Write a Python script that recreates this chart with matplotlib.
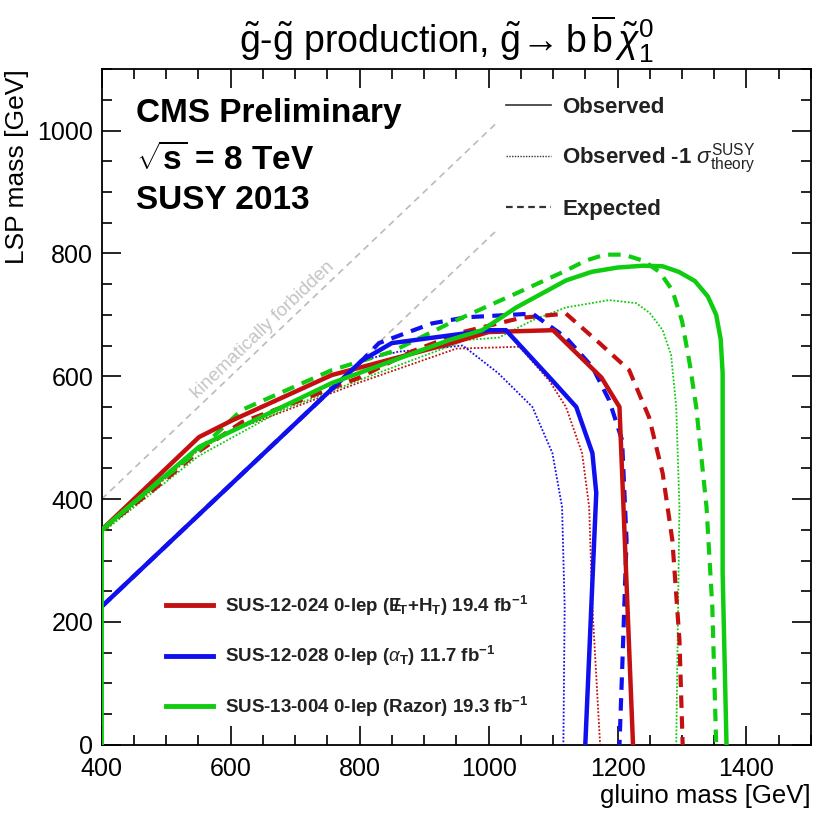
import numpy as np
import matplotlib
matplotlib.use("Agg")
import matplotlib.pyplot as plt
from matplotlib.lines import Line2D

plt.rcParams['font.family'] = ['Liberation Sans', 'DejaVu Sans']
plt.rcParams['mathtext.fontset'] = 'custom'
plt.rcParams['mathtext.rm'] = 'Liberation Sans'
plt.rcParams['mathtext.it'] = 'Liberation Sans:italic'
plt.rcParams['mathtext.bf'] = 'Liberation Sans:bold'

# ---- data (GeV) ----
# SUS-12-024 (MET+HT)
red_obs_x = [400, 551, 602, 757, 943, 1000, 1100, 1175, 1203, 1224]
red_obs_y = [350, 501, 528, 602, 654, 672, 675, 598, 550, 0]
red_exp_x = [400, 480, 551, 617, 706, 800, 880, 960, 1050, 1120, 1172, 1218, 1249, 1270, 1285, 1296, 1301]
red_exp_y = [350, 415, 478, 525, 560, 598, 640, 672, 695, 702, 654, 610, 533, 442, 333, 171, 0]
red_m1_x = [400, 550, 600, 800, 950, 1048, 1094, 1120, 1145, 1156, 1161, 1173]
red_m1_y = [345, 480, 510, 590, 645, 648, 593, 550, 475, 387, 224, 0]

# SUS-12-028 (alphaT)
blue_obs_x = [400, 804, 850, 1001, 1027, 1099, 1136, 1161, 1167, 1150]
blue_obs_y = [225, 626, 654, 675, 675, 593, 550, 475, 410, 0]
blue_exp_x = [400, 804, 830, 912, 965, 1068, 1120, 1161, 1187, 1207, 1214, 1207, 1203]
blue_exp_y = [225, 626, 654, 686, 696, 702, 663, 615, 561, 496, 333, 117, 0]
blue_m1_x = [400, 804, 860, 960, 1015, 1068, 1099, 1114, 1118, 1116]
blue_m1_y = [225, 626, 640, 650, 605, 550, 475, 387, 224, 0]

# SUS-13-004 (Razor)
green_obs_x = [400, 400, 551, 757, 939, 990, 1043, 1120, 1160, 1200, 1240, 1270, 1295, 1320, 1340,
               1353, 1360, 1363, 1363, 1363, 1369]
green_obs_y = [0, 350, 485, 589, 659, 675, 712, 756, 770, 777, 780, 779, 770, 755, 730,
               700, 660, 605, 528, 280, 0]
green_exp_x = [400, 480, 551, 617, 757, 850, 939, 1043, 1120, 1150, 1180, 1210, 1240, 1265, 1285,
               1300, 1312, 1322, 1338, 1347, 1353]
green_exp_y = [350, 420, 480, 545, 610, 640, 686, 735, 772, 788, 798, 798, 788, 770, 740,
               690, 620, 550, 387, 224, 0]
green_m1_x = [400, 550, 680, 810, 965, 1016, 1068, 1120, 1187, 1229, 1250, 1270, 1283, 1291, 1296, 1291]
green_m1_y = [345, 470, 545, 598, 659, 663, 691, 712, 724, 719, 703, 675, 635, 550, 387, 0]

# kinematic boundaries
kin_x = [400, 1010]
kin_offsets = [0, 175]

red = '#c41010'
blue = '#1010ee'
green = '#10cc10'

fig = plt.figure(figsize=(8.2, 8.23), dpi=100)
ax = fig.add_axes([0.124, 0.095, 0.865, 0.821])

for off in kin_offsets:
    ax.plot(kin_x, [v - off for v in kin_x], color='#bbbbbb', lw=1.2, ls=(0, (4, 3)), zorder=1)
ax.text(650, 676, 'kinematically forbidden', color='#c4c4c4', fontsize=13.5,
        rotation=43.7, ha='center', va='center', zorder=1)

for c, xo, yo, xe, ye, xm, ym in [
        (red, red_obs_x, red_obs_y, red_exp_x, red_exp_y, red_m1_x, red_m1_y),
        (blue, blue_obs_x, blue_obs_y, blue_exp_x, blue_exp_y, blue_m1_x, blue_m1_y),
        (green, green_obs_x, green_obs_y, green_exp_x, green_exp_y, green_m1_x, green_m1_y)]:
    ax.plot(xm, ym, color=c, lw=1.3, ls=(0, (1, 1)), zorder=2)
    ax.plot(xe, ye, color=c, lw=3, ls=(0, (3, 2)), zorder=3)
    ax.plot(xo, yo, color=c, lw=3.2, zorder=4, solid_joinstyle='miter')

ax.set_xlim(400, 1500)
ax.set_ylim(0, 1100)
ax.set_xticks(np.arange(400, 1401, 200))
ax.set_yticks(np.arange(0, 1001, 200))
ax.set_xticks(np.arange(400, 1501, 50), minor=True)
ax.set_yticks(np.arange(0, 1101, 50), minor=True)
ax.tick_params(which='both', direction='in', top=True, right=True, labelsize=18, width=1.2)
ax.tick_params(which='major', length=14, pad=6)
ax.tick_params(axis='x', which='major', pad=9)
ax.tick_params(which='minor', length=7)
for s in ax.spines.values():
    s.set_linewidth(1.3)

ax.set_xlabel('gluino mass [GeV]', fontsize=18.5, loc='right', labelpad=2)
ax.set_ylabel('LSP mass [GeV]', fontsize=19, loc='top', labelpad=6)

fig.text(0.544, 0.952, r'$\tilde{\mathrm{g}}$-$\tilde{\mathrm{g}}$ production, '
         r'$\tilde{\mathrm{g}}\!\rightarrow \mathrm{b}\,\overline{\mathrm{b}}\,\tilde{\chi}^{0}_{1}$',
         ha='center', va='center', fontsize=27)

ax.text(0.048, 0.935, 'CMS Preliminary', transform=ax.transAxes, fontsize=24, fontweight='bold', va='center')
ax.text(0.048, 0.865, r'$\sqrt{\mathbf{s}}$ = 8 TeV', transform=ax.transAxes, fontsize=24, fontweight='bold', va='center')
ax.text(0.048, 0.805, 'SUSY 2013', transform=ax.transAxes, fontsize=24, fontweight='bold', va='center')

style_handles = [Line2D([], [], color='#333333', lw=1.2),
                 Line2D([], [], color='#333333', lw=1.0, ls=(0, (1, 1))),
                 Line2D([], [], color='#333333', lw=1.6, ls=(0, (3, 2)))]
style_labels = ['Observed', r'Observed -1 $\sigma^{\rm SUSY}_{\rm theory}$', 'Expected']
leg1 = ax.legend(style_handles, style_labels, loc='upper left', bbox_to_anchor=(0.555, 0.975),
                 frameon=False, prop={'weight': 'bold', 'size': 16},
                 handlelength=2.0, labelspacing=1.05, borderpad=0, handletextpad=0.5)
for t in leg1.get_texts():
    t.set_color('#222222')
ax.add_artist(leg1)

ana_handles = [Line2D([], [], color=red, lw=3.5),
               Line2D([], [], color=blue, lw=3.5),
               Line2D([], [], color=green, lw=3.5)]
ana_labels = [r'SUS-12-024 0-lep ($\mathbf{E\!\!\!/}_\mathbf{T}$+H$_\mathbf{T}$) 19.4 fb$^\mathbf{-1}$',
              r'SUS-12-028 0-lep ($\alpha_\mathbf{T}$) 11.7 fb$^\mathbf{-1}$',
              r'SUS-13-004 0-lep (Razor) 19.3 fb$^\mathbf{-1}$']
leg2 = ax.legend(ana_handles, ana_labels, loc='lower left', bbox_to_anchor=(0.078, 0.025),
                 frameon=False, prop={'weight': 'bold', 'size': 13.5},
                 handlelength=2.5, labelspacing=1.4, borderpad=0, handletextpad=0.6)
for t in leg2.get_texts():
    t.set_color('#222222')

fig.savefig('out.png', dpi=100)
